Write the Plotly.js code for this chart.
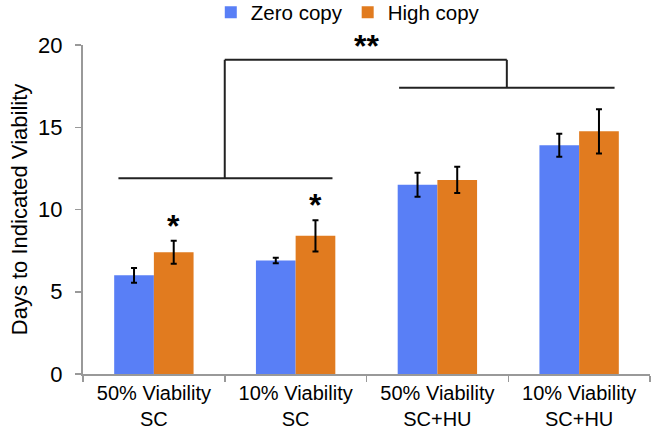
<!DOCTYPE html>
<html>
<head>
<meta charset="utf-8">
<script src="https://cdn.plot.ly/plotly-3.0.1.min.js"></script>
<style>html,body{margin:0;padding:0;background:#fff;}#chart{width:651px;height:435px;}</style>
</head>
<body>
<div id="chart"></div>
<script>
var categories = ["50% Viability<br>SC", "10% Viability<br>SC", "50% Viability<br>SC+HU", "10% Viability<br>SC+HU"];
var seriesNames = ["Zero copy", "High copy"];
var zeroCopy = [6.0, 6.9, 11.5, 13.9];
var zeroErr = [0.45, 0.17, 0.73, 0.7];
var highCopy = [7.4, 8.4, 11.8, 14.75];
var highErr = [0.7, 0.95, 0.8, 1.35];
var yTicks = [0, 5, 10, 15, 20];
var starLabels = ["*", "*"];
var starIndex = [0, 1];
var groupStar = "**";

var font = "Liberation Sans, Arial, Helvetica, sans-serif";
var errStyle = {type: "data", visible: true, color: "#000", thickness: 2, width: 3};

var traces = [
  {type: "bar", name: seriesNames[0], x: categories, y: zeroCopy,
   error_y: Object.assign({array: zeroErr}, errStyle),
   marker: {color: "rgb(89,127,246)"}},
  {type: "bar", name: seriesNames[1], x: categories, y: highCopy,
   error_y: Object.assign({array: highErr}, errStyle),
   marker: {color: "rgb(225,123,31)"}}
];

var lineStyle = {color: "#222", width: 2};
var shapes = [
  {type: "line", xref: "x", yref: "y", x0: -0.25, x1: 1.26, y0: 11.9, y1: 11.9, line: lineStyle},
  {type: "line", xref: "x", yref: "y", x0: 1.73, x1: 3.25, y0: 17.4, y1: 17.4, line: lineStyle},
  {type: "line", xref: "x", yref: "y", x0: 0.5, x1: 0.5, y0: 11.9, y1: 19.1, line: lineStyle},
  {type: "line", xref: "x", yref: "y", x0: 0.5, x1: 2.49, y0: 19.1, y1: 19.1, line: lineStyle},
  {type: "line", xref: "x", yref: "y", x0: 2.49, x1: 2.49, y0: 19.1, y1: 17.4, line: lineStyle}
];

var annotations = starIndex.map(function (i, k) {
  return {xref: "x", yref: "y", x: i + 0.14, y: highCopy[i] + highErr[i] + 0.9,
          text: "<b>" + starLabels[k] + "</b>", showarrow: false, font: {family: font, size: 32, color: "#000"}};
});
annotations.push({xref: "x", yref: "y", x: 1.5, y: 19.95, text: "<b>" + groupStar + "</b>", showarrow: false,
                  font: {family: font, size: 32, color: "#000"}});

var layout = {
  width: 651, height: 435,
  margin: {l: 83, r: 1, t: 45, b: 61, autoexpand: false},
  paper_bgcolor: "#fff", plot_bgcolor: "#fff",
  font: {family: font, color: "#000", size: 20},
  barmode: "group", bargap: 0.44, bargroupgap: 0,
  showlegend: true,
  legend: {orientation: "h", x: 0.467, xanchor: "center", y: 1.16, yanchor: "top",
           font: {family: font, size: 20.5}, itemwidth: 30, tracegroupgap: 0,
           bgcolor: "rgba(0,0,0,0)"},
  xaxis: {type: "category", showline: true, linecolor: "#999", linewidth: 2,
          ticks: "outside", tickson: "boundaries", ticklen: 6, tickcolor: "#999", tickwidth: 1.5,
          tickfont: {family: font, size: 20}, showgrid: false, zeroline: false,
          range: [-0.5, 3.5]},
  yaxis: {range: [0, 20], tickvals: yTicks, showline: true, linecolor: "#999", linewidth: 2,
          ticks: "outside", ticklen: 6, tickcolor: "#999", tickwidth: 1.5,
          ticklabelstandoff: 8,
          tickfont: {family: font, size: 22}, showgrid: false, zeroline: false,
          title: {text: "Days to Indicated Viability", font: {family: font, size: 22}, standoff: 4}},
  shapes: shapes,
  annotations: annotations
};

Plotly.newPlot("chart", traces, layout, {displayModeBar: false, staticPlot: true});
</script>
</body>
</html>
